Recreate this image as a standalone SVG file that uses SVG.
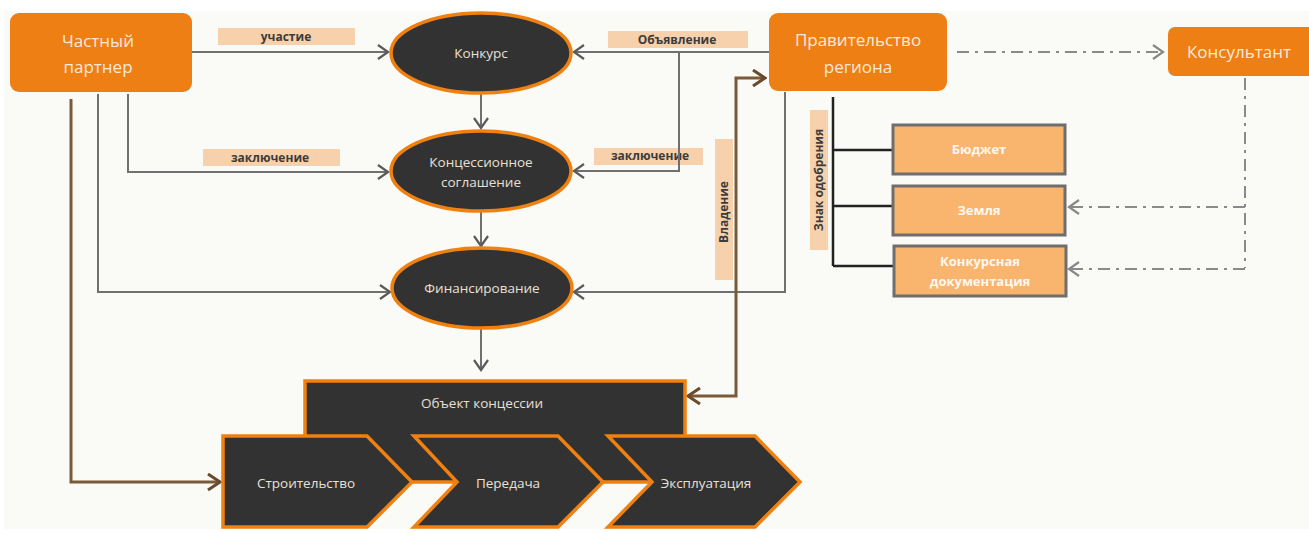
<svg xmlns="http://www.w3.org/2000/svg" width="1309" height="533" viewBox="0 0 1309 533">
<defs>
<style>
.bg{fill:#fafaf6}
.orange{fill:#ee7f14}
.otxt{font-family:"Open Sans","Noto Sans",sans-serif;font-size:17px;fill:#fbeadb;text-anchor:middle}
.ell{fill:#333232;stroke:#f08010;stroke-width:3.5}
.etxt{font-family:"Open Sans","Noto Sans",sans-serif;font-size:13.5px;fill:#e8e0d6;text-anchor:middle}
.dark{fill:#333232;stroke:#f08010;stroke-width:3.5;stroke-linejoin:miter}
.box{fill:#f9b46e;stroke:#6e6e6e;stroke-width:3}
.btxt{font-family:"Open Sans","Noto Sans",sans-serif;font-size:13px;font-weight:bold;fill:#fff8ef;text-anchor:middle}
.lbl{fill:#f6d1ab}
.ltxt{font-family:"Open Sans","Noto Sans",sans-serif;font-size:12px;font-weight:bold;fill:#3c3c3c;text-anchor:middle}
.gray{fill:none;stroke:#707070;stroke-width:2}
.brown{fill:none;stroke:#7b5a3a;stroke-width:3}
.black{fill:none;stroke:#222;stroke-width:2.5}
.dd{fill:none;stroke:#8a8a8a;stroke-width:2;stroke-dasharray:12,6,3,6}
</style>
<marker id="ag" markerUnits="userSpaceOnUse" markerWidth="14" markerHeight="16" viewBox="0 0 14 16" refX="12" refY="8" orient="auto">
<path d="M2,1 L12,8 L2,15" fill="none" stroke="#5a5a5a" stroke-width="2.2"/>
</marker>
<marker id="ab" markerUnits="userSpaceOnUse" markerWidth="16" markerHeight="18" viewBox="0 0 16 18" refX="14" refY="9" orient="auto-start-reverse">
<path d="M2,1 L14,9 L2,17" fill="none" stroke="#6b4a2c" stroke-width="3"/>
</marker>
<marker id="ad" markerUnits="userSpaceOnUse" markerWidth="14" markerHeight="16" viewBox="0 0 14 16" refX="12" refY="8" orient="auto">
<path d="M2,1 L12,8 L2,15" fill="none" stroke="#888" stroke-width="2.2"/>
</marker>
</defs>
<rect width="1309" height="533" fill="#ffffff"/>
<rect class="bg" x="4" y="11" width="1305" height="518"/>

<g id="labels">
<rect class="lbl" x="218" y="28" width="137" height="17"/>
<text class="ltxt" x="286" y="41">участие</text>
<rect class="lbl" x="203" y="149" width="137" height="17"/>
<text class="ltxt" x="270" y="162" font-size="13">заключение</text>
<rect class="lbl" x="608" y="31" width="140" height="17"/>
<text class="ltxt" x="677" y="44" font-size="12.5">Объявление</text>
<rect class="lbl" x="594" y="148" width="109" height="17"/>
<text class="ltxt" x="650" y="160" font-size="10.5">заключение</text>
<rect class="lbl" x="715" y="139" width="18" height="141"/>
<text class="ltxt" x="0" y="0" font-size="12.5" transform="translate(728,212) rotate(-90)">Владение</text>
<rect class="lbl" x="810" y="110" width="18" height="140"/>
<text class="ltxt" x="0" y="0" font-size="10" transform="translate(823,180) rotate(-90)">Знак одобрения</text>
</g>

<g id="connectors">
<path class="gray" d="M192,52 H388" marker-end="url(#ag)"/>
<path class="gray" d="M128,94 V172 H388" marker-end="url(#ag)"/>
<path class="gray" d="M98,94 V292 H390" marker-end="url(#ag)"/>
<path class="brown" d="M71,99 V482 H220" marker-end="url(#ab)"/>
<path class="gray" d="M769,52 H574" marker-end="url(#ag)"/>
<path class="gray" d="M679,52 V171 H574" marker-end="url(#ag)"/>
<path class="gray" d="M785,92 V292 H574" marker-end="url(#ag)"/>
<path class="gray" d="M481,93 V128" marker-end="url(#ag)"/>
<path class="gray" d="M481,212 V246" marker-end="url(#ag)"/>
<path class="gray" d="M481,328 V370" marker-end="url(#ag)"/>
<path class="brown" d="M688,396 H736 V78 H765" marker-start="url(#ab)" marker-end="url(#ab)"/>
<path class="black" d="M833,97 V266 M833,150 H893 M833,206 H893 M833,266 H893"/>
<path class="dd" d="M957,52 H1163" marker-end="url(#ad)"/>
<path class="dd" d="M1245,78 V268"/>
<path class="dd" d="M1245,207 H1069" marker-end="url(#ad)"/>
<path class="dd" d="M1245,269 H1069" marker-end="url(#ad)"/>
</g>

<g id="partner">
<rect class="orange" x="10" y="13" width="182" height="79" rx="9"/>
<text class="otxt" x="98" y="47">Частный</text>
<text class="otxt" x="98" y="73">партнер</text>
</g>
<g id="government">
<rect class="orange" x="769" y="13" width="178" height="78" rx="9"/>
<text class="otxt" x="858" y="46">Правительство</text>
<text class="otxt" x="858" y="73">региона</text>
</g>
<g id="consultant">
<rect class="orange" x="1168" y="27" width="160" height="49" rx="7"/>
<text class="otxt" x="1239" y="58">Консультант</text>
</g>
<g id="konkurs">
<ellipse class="ell" cx="481" cy="53" rx="90" ry="40"/>
<text class="etxt" x="481" y="58">Конкурс</text>
</g>
<g id="soglashenie">
<ellipse class="ell" cx="481" cy="171" rx="90" ry="40"/>
<text class="etxt" x="481" y="167">Концессионное</text>
<text class="etxt" x="481" y="187">соглашение</text>
</g>
<g id="finansirovanie">
<ellipse class="ell" cx="482" cy="288" rx="90" ry="40"/>
<text class="etxt" x="482" y="293" font-size="13">Финансирование</text>
</g>
<g id="budget">
<rect class="box" x="893" y="125" width="172" height="49"/>
<text class="btxt" x="979" y="154">Бюджет</text>
</g>
<g id="zemlya">
<rect class="box" x="893" y="186" width="172" height="49"/>
<text class="btxt" x="979" y="215">Земля</text>
</g>
<g id="dokumentaciya">
<rect class="box" x="894" y="246" width="172" height="50"/>
<text class="btxt" x="980" y="266">Конкурсная</text>
<text class="btxt" x="980" y="286">документация</text>
</g>
<g id="obekt">
<rect class="dark" x="305" y="381" width="380" height="101"/>
<text class="etxt" x="482" y="408" font-size="14">Объект концессии</text>
</g>
<g id="stroitelstvo">
<polygon class="dark" points="223,436 367,436 412,482 367,527 223,527"/>
<text class="etxt" x="306" y="488" font-size="14">Строительство</text>
</g>
<g id="peredacha">
<polygon class="dark" points="414,436 558,436 603,482 558,527 414,527 457,482"/>
<text class="etxt" x="508" y="488" font-size="14">Передача</text>
</g>
<g id="ekspluataciya">
<polygon class="dark" points="608,436 755,436 800,482 755,527 608,527 652,482"/>
<text class="etxt" x="706" y="488" font-size="14">Эксплуатация</text>
</g>
</svg>
